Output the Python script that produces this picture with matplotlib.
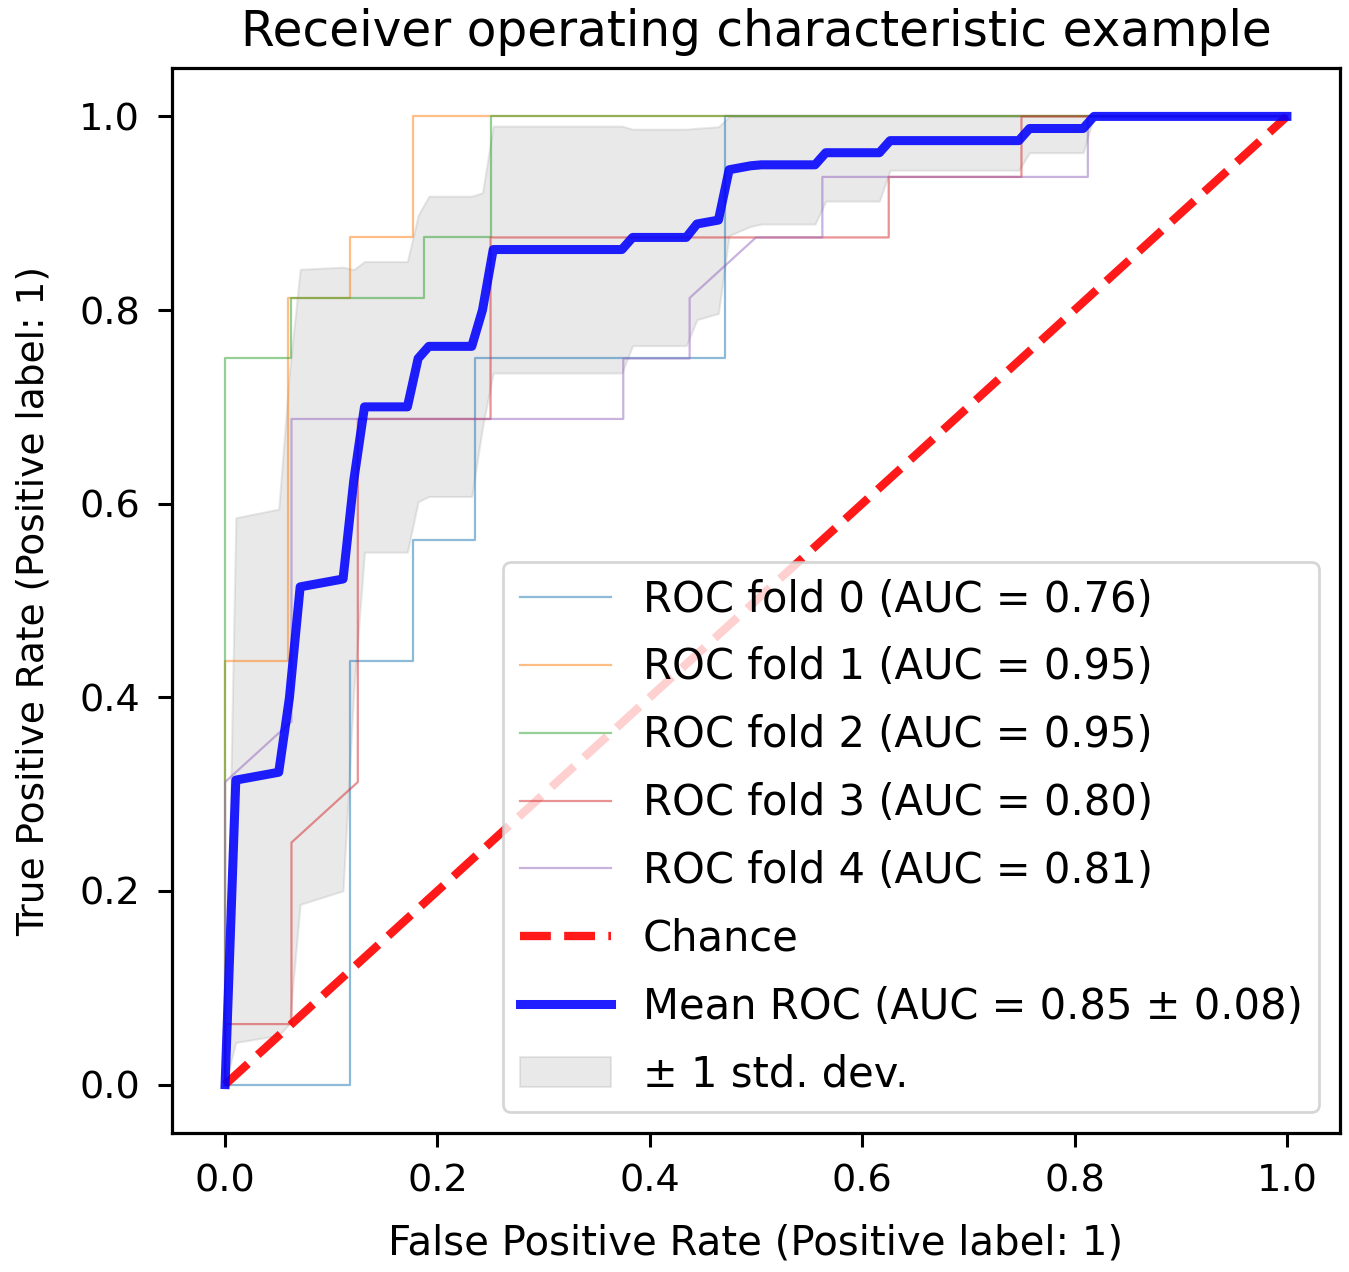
import matplotlib
matplotlib.use("Agg")
import matplotlib.pyplot as plt

plt.rcParams['font.family'] = ['DejaVu Sans']

# ---- data ----
fold_labels = ["ROC fold 0 (AUC = 0.76)", "ROC fold 1 (AUC = 0.95)",
               "ROC fold 2 (AUC = 0.95)", "ROC fold 3 (AUC = 0.80)",
               "ROC fold 4 (AUC = 0.81)"]

fold0_fpr = [0, 0.1176, 0.1176, 0.1765, 0.1765, 0.2353, 0.2353, 0.4706, 0.4706, 1.0]
fold0_tpr = [0, 0, 0.4375, 0.4375, 0.5625, 0.5625, 0.75, 0.75, 1.0, 1.0]

fold1_fpr = [0, 0, 0.0588, 0.0588, 0.1176, 0.1176, 0.1765, 0.1765, 1.0]
fold1_tpr = [0, 0.4375, 0.4375, 0.8125, 0.8125, 0.875, 0.875, 1.0, 1.0]

fold2_fpr = [0, 0, 0.0625, 0.0625, 0.1875, 0.1875, 0.25, 0.25, 1.0]
fold2_tpr = [0, 0.75, 0.75, 0.8125, 0.8125, 0.875, 0.875, 1.0, 1.0]

fold3_fpr = [0, 0, 0.0625, 0.0625, 0.125, 0.125, 0.25, 0.25, 0.625, 0.625, 0.75, 0.75, 1.0]
fold3_tpr = [0, 0.0625, 0.0625, 0.25, 0.3125, 0.6875, 0.6875, 0.875, 0.875, 0.9375, 0.9375, 1.0, 1.0]

fold4_fpr = [0, 0, 0.0625, 0.0625, 0.375, 0.375, 0.4375, 0.4375, 0.5, 0.5625, 0.5625, 0.8125, 0.8125, 1.0]
fold4_tpr = [0, 0.3125, 0.375, 0.6875, 0.6875, 0.75, 0.75, 0.8125, 0.875, 0.875, 0.9375, 0.9375, 1.0, 1.0]

mean_fpr = [0, 0.0101, 0.0505, 0.0606, 0.0707, 0.1111, 0.1212, 0.1313, 0.1717, 0.1818,
            0.1919, 0.2323, 0.2424, 0.2525, 0.3737, 0.3838, 0.4343, 0.4444, 0.4646, 0.4747,
            0.4949, 0.5051, 0.5556, 0.5657, 0.6162, 0.6263, 0.7475, 0.7576, 0.8081, 0.8182, 1.0]
mean_tpr = [0, 0.3145, 0.3226, 0.3996, 0.5141, 0.5222, 0.6242, 0.70, 0.70, 0.75,
            0.7625, 0.7625, 0.80, 0.8625, 0.8625, 0.875, 0.875, 0.8889, 0.8929, 0.9449,
            0.9490, 0.95, 0.95, 0.9625, 0.9625, 0.975, 0.975, 0.9875, 0.9875, 1.0, 1.0]
tpr_upper = [0, 0.5855, 0.5944, 0.7364, 0.8421, 0.8443, 0.8418, 0.8501, 0.8501, 0.8979,
             0.9176, 0.9176, 0.9212, 0.99, 0.99, 0.9868, 0.9868, 0.9878, 0.9893, 1.0,
             1.0, 1.0, 1.0, 1.0, 1.0, 1.0, 1.0, 1.0, 1.0, 1.0, 1.0]
tpr_lower = [0, 0.0435, 0.0508, 0.0628, 0.1861, 0.2001, 0.4066, 0.5499, 0.5499, 0.6021,
             0.6074, 0.6074, 0.6788, 0.735, 0.735, 0.7632, 0.7632, 0.79, 0.7965, 0.8769,
             0.8864, 0.8888, 0.8888, 0.9125, 0.9125, 0.9444, 0.9444, 0.9625, 0.9625, 1.0, 1.0]

chance_x = [0, 1]
chance_y = [0, 1]

ticks = [0.0, 0.2, 0.4, 0.6, 0.8, 1.0]

folds = [(fold0_fpr, fold0_tpr), (fold1_fpr, fold1_tpr), (fold2_fpr, fold2_tpr),
         (fold3_fpr, fold3_tpr), (fold4_fpr, fold4_tpr)]
fold_colors = ["#1f77b4", "#ff7f0e", "#2ca02c", "#d62728", "#9467bd"]

fig = plt.figure(figsize=(13.49, 12.72), dpi=100)
ax = fig.add_axes([172 / 1349, 139 / 1272, 1168 / 1349, 1065 / 1272])

for (fx, fy), lab, c in zip(folds, fold_labels, fold_colors):
    ax.plot(fx, fy, color=c, lw=1.6, alpha=0.5, label=lab)

ax.plot(chance_x, chance_y, linestyle="--", lw=6, color="r", label="Chance", alpha=0.9)
ax.plot(mean_fpr, mean_tpr, color="b", lw=6.5, alpha=0.88,
        label="Mean ROC (AUC = 0.85 ± 0.08)")
ax.fill_between(mean_fpr, tpr_lower, tpr_upper, color="grey", alpha=0.17, lw=1.5,
                label="± 1 std. dev.")

ax.set_xlim(-0.05, 1.05)
ax.set_ylim(-0.05, 1.05)
ax.set_xticks(ticks)
ax.set_yticks(ticks)
ax.tick_params(labelsize=27.5, length=10, width=2.2)
ax.tick_params(axis="x", pad=12)
ax.tick_params(axis="y", pad=13)
for s in ax.spines.values():
    s.set_linewidth(2.3)

ax.set_xlabel("False Positive Rate (Positive label: 1)", fontsize=29, labelpad=17)
ax.set_ylabel("True Positive Rate (Positive label: 1)", fontsize=27, labelpad=20)
ax.set_title("Receiver operating characteristic example", fontsize=35, pad=16)

leg = ax.legend(loc="lower right", fontsize=30, handlelength=2.2, labelspacing=0.62,
                borderaxespad=0.5, borderpad=0.4, handletextpad=0.75, framealpha=0.8)
leg.get_frame().set_linewidth(2)

fig.savefig("out.png", dpi=100)
